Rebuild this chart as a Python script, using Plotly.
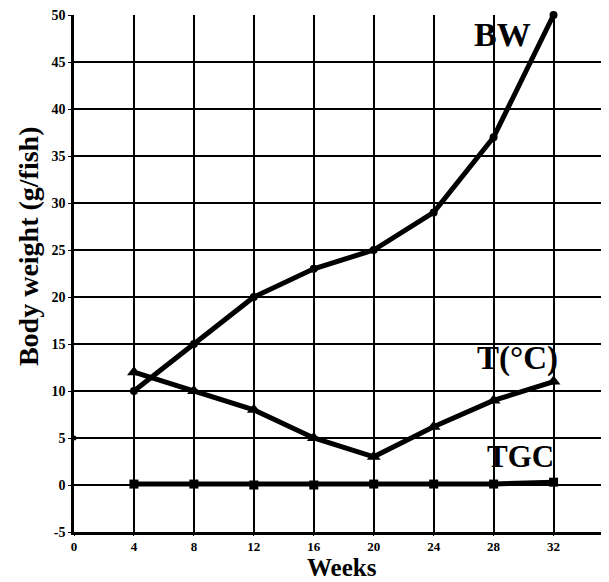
import plotly.graph_objects as go

weeks = [4, 8, 12, 16, 20, 24, 28, 32]
bw = [10, 15, 20, 23, 25, 29, 37, 50]
temp = [12, 10, 8, 5, 3, 6.2, 9, 11]
tgc = [0.1, 0.1, 0.0, 0.0, 0.1, 0.1, 0.1, 0.3]
x_ticks = [0, 4, 8, 12, 16, 20, 24, 28, 32]
y_ticks = [-5, 0, 5, 10, 15, 20, 25, 30, 35, 40, 45, 50]
labels = ["<b>BW</b>", "<b>T(°C)</b>", "<b>TGC</b>"]
label_x = [28.6, 29.6, 29.8]
label_y = [47.9, 13.5, 3.0]
label_size = [34, 33, 31]

font = "Liberation Serif, Times New Roman, serif"
fig = go.Figure()
fig.add_trace(go.Scatter(x=weeks, y=bw, mode="lines+markers",
                         line=dict(color="black", width=5),
                         marker=dict(symbol="circle", size=8, color="black"),
                         showlegend=False, cliponaxis=False))
fig.add_trace(go.Scatter(x=weeks, y=temp, mode="lines+markers",
                         line=dict(color="black", width=5),
                         marker=dict(symbol="triangle-up", size=12, color="black"),
                         showlegend=False, cliponaxis=False))
fig.add_trace(go.Scatter(x=weeks, y=tgc, mode="lines+markers",
                         line=dict(color="black", width=5),
                         marker=dict(symbol="square", size=9, color="black"),
                         showlegend=False, cliponaxis=False))
fig.add_trace(go.Scatter(x=[0], y=[5], mode="markers",
                         marker=dict(symbol="circle", size=5, color="black"),
                         showlegend=False, cliponaxis=False))
for t, x, y, s in zip(labels, label_x, label_y, label_size):
    fig.add_annotation(x=x, y=y, text=t, showarrow=False,
                       xanchor="center", yanchor="middle",
                       font=dict(family=font, size=s, color="black"))

# axis titles
fig.add_annotation(xref="paper", yref="paper", x=-0.086, y=0.553,
                   xanchor="center", yanchor="middle",
                   text="<b>Body weight (g/fish)</b>", textangle=-90, showarrow=False,
                   font=dict(family=font, size=28, color="black"))
fig.add_annotation(xref="paper", yref="paper", x=0.5, y=-0.0695,
                   xanchor="center", yanchor="middle",
                   text="<b>Weeks</b>", showarrow=False,
                   font=dict(family=font, size=25, color="black"))

fig.update_layout(
    width=601, height=574,
    margin=dict(l=66, r=0, t=7, b=50),
    plot_bgcolor="white", paper_bgcolor="white",
    font=dict(family=font, color="black"),
)
fig.update_xaxes(range=[0, 35.7], tickvals=x_ticks, ticktext=[f"<b>{v}</b>" for v in x_ticks],
                 showgrid=True, gridcolor="black", gridwidth=1.8, automargin=False,
                 showline=True, linecolor="black", linewidth=2.5, zeroline=False,
                 ticks="outside", ticklen=1, tickcolor="black", ticklabeloverflow="allow",
                 tickfont=dict(family=font, size=13, color="black"))
fig.update_yaxes(range=[-5, 50], tickvals=y_ticks, ticktext=[f"<b>{v}</b>" for v in y_ticks],
                 showgrid=True, gridcolor="black", gridwidth=1.8, automargin=False,
                 showline=True, linecolor="black", linewidth=2.5, zeroline=False,
                 ticks="outside", ticklen=3, tickcolor="black", ticklabeloverflow="allow",
                 tickfont=dict(family=font, size=14, color="black"))
fig.write_html("out.html")
